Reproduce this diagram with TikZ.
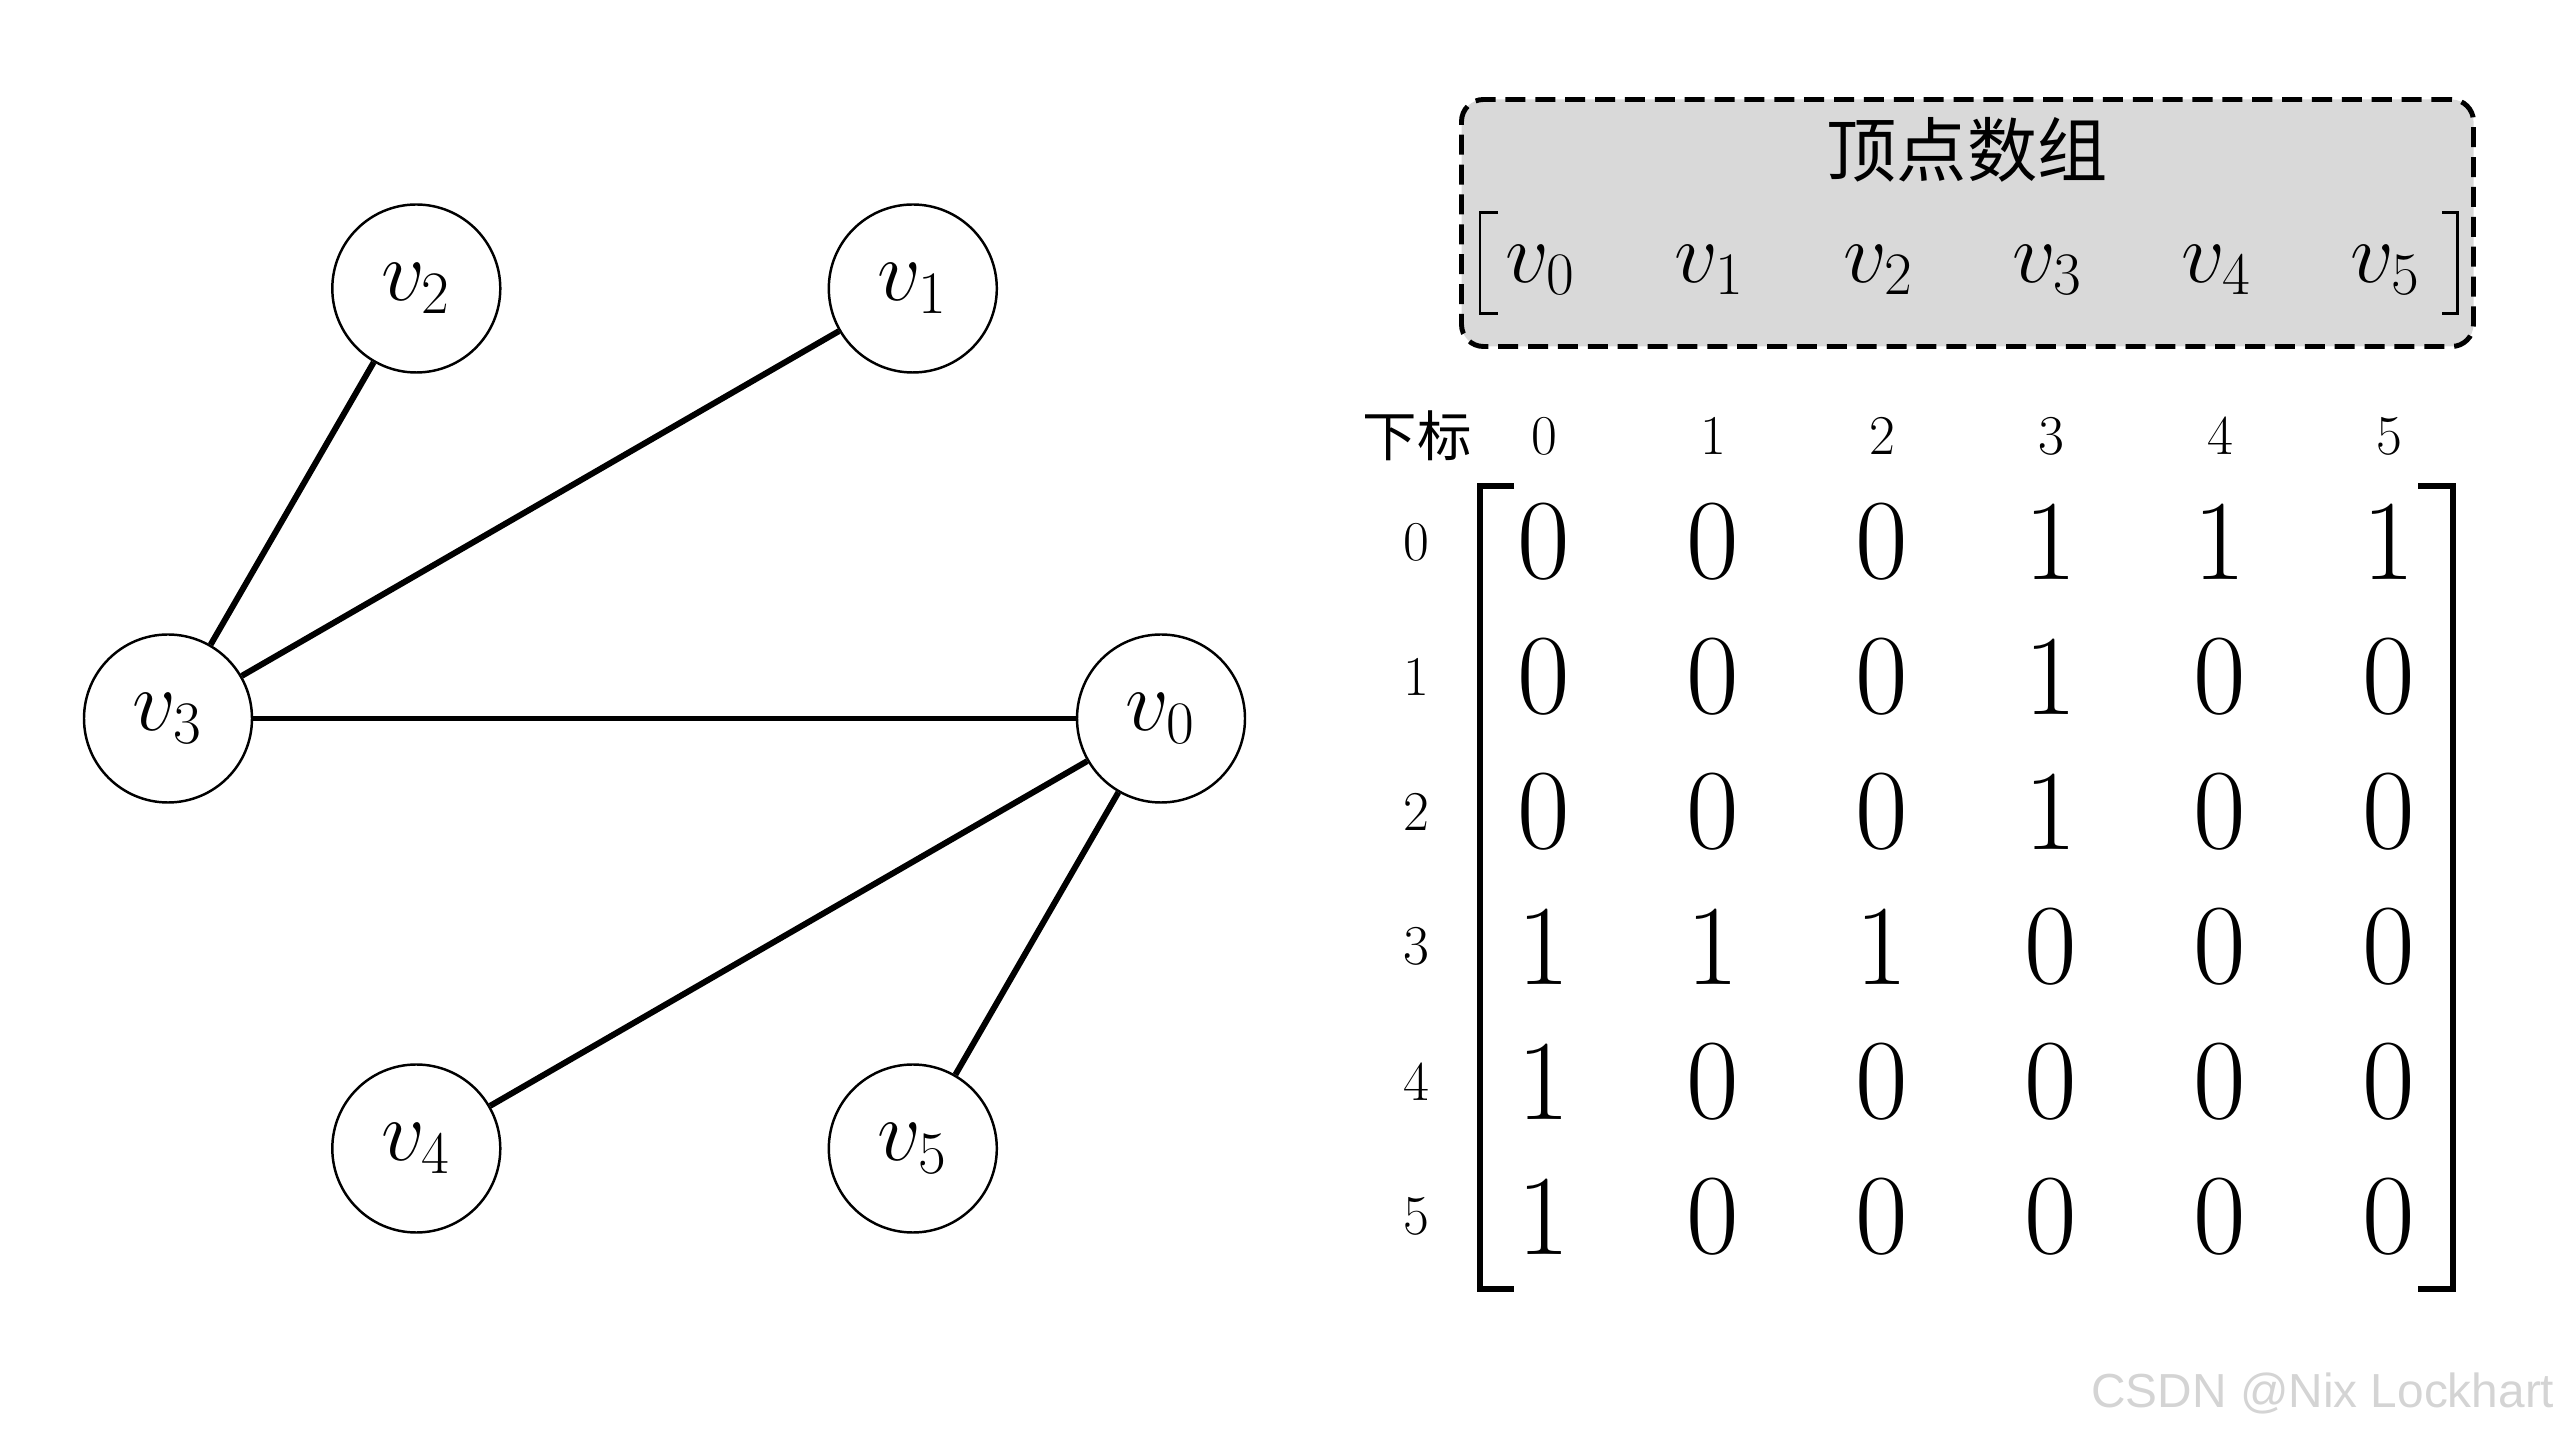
\RequirePackage{fix-cm}
\documentclass[tikz,border=0pt]{standalone}
\usepackage{fontspec}
\newfontfamily\cjk{Noto Sans CJK SC}
\newfontfamily\marksans{Liberation Sans}
\definecolor{boxgray}{RGB}{217,217,217}
\definecolor{markgray}{RGB}{212,212,212}

\begin{document}
\begin{tikzpicture}[
        vertexnode/.style={circle, draw, line width=0.7pt, minimum size=1.68cm, inner sep=0pt, font=\fontsize{24.5}{29}\selectfont},
        link/.style={line width=1.7pt},
        arraybox/.style={rectangle, draw, dash pattern=on 5.7pt off 2.8pt, line width=1.4pt, rounded corners=0.22cm, fill=boxgray, minimum width=10.12cm, minimum height=2.47cm, inner sep=0pt},
        titlenode/.style={font=\cjk\fontsize{20}{24}\selectfont},
        arraynode/.style={font=\fontsize{24.5}{29}\selectfont},
        indexnode/.style={font=\fontsize{16}{19}\selectfont},
        entrynode/.style={font=\fontsize{32.5}{38}\selectfont},
        bracket/.style={line width=1.8pt},
        thinbracket/.style={line width=0.8pt},
    ]
    \useasboundingbox (0,0) rectangle (25.6,14.4);
    % graph
    \node[vertexnode] (0) at (11.61,7.215) {$v_0$};
    \node[vertexnode] (1) at (9.128,11.515) {$v_1$};
    \node[vertexnode] (2) at (4.163,11.515) {$v_2$};
    \node[vertexnode] (3) at (1.68,7.215) {$v_3$};
    \node[vertexnode] (4) at (4.163,2.915) {$v_4$};
    \node[vertexnode] (5) at (9.128,2.915) {$v_5$};
    \draw [link] (3) -- (2);
    \draw [link] (3) -- (1);
    \draw [link] (3) -- (0);
    \draw [link] (0) -- (4);
    \draw [link] (0) -- (5);
    % vertex array
    \node[arraybox] (vbox) at (19.675,12.17) {};
    \node[titlenode] (title) at (19.67,12.90) {顶点数组};
    \foreach \c in {0,...,5}
        \node[arraynode] (a\c) at ({15.41+1.69*\c},11.70) {$v_\c$};
    \draw [thinbracket] (14.98,12.275) -- (14.80,12.275) -- (14.80,11.265) -- (14.98,11.265);
    \draw [thinbracket] (24.42,12.275) -- (24.575,12.275) -- (24.575,11.265) -- (24.42,11.265);
    % adjacency matrix
    \node[font=\cjk\fontsize{15.5}{19}\selectfont] (idx) at (14.17,10.04) {下标};
    \foreach \c in {0,...,5}
        \node[indexnode] (c\c) at ({15.44+1.69*\c},10.04) {\c};
    \foreach \r/\row in {0/{0,0,0,1,1,1},1/{0,0,0,1,0,0},2/{0,0,0,1,0,0},3/{1,1,1,0,0,0},4/{1,0,0,0,0,0},5/{1,0,0,0,0,0}} {
        \node[indexnode] (r\r) at (14.16,{8.98-1.349*\r}) {\r};
        \foreach \v [count=\c from 0] in \row
            \node[entrynode] (m\r\c) at ({15.44+1.69*\c},{8.98-1.349*\r}) {\v};
    }
    \draw [bracket] (15.14,9.54) -- (14.80,9.54) -- (14.80,1.51) -- (15.14,1.51);
    \draw [bracket] (24.18,9.54) -- (24.53,9.54) -- (24.53,1.51) -- (24.18,1.51);
    % watermark
    \node[anchor=base east, inner sep=0pt, text=markgray, font=\marksans\fontsize{13.6}{16}\selectfont] (mark) at (25.55,0.33) {CSDN @Nix Lockhart};
\end{tikzpicture}
\end{document}
